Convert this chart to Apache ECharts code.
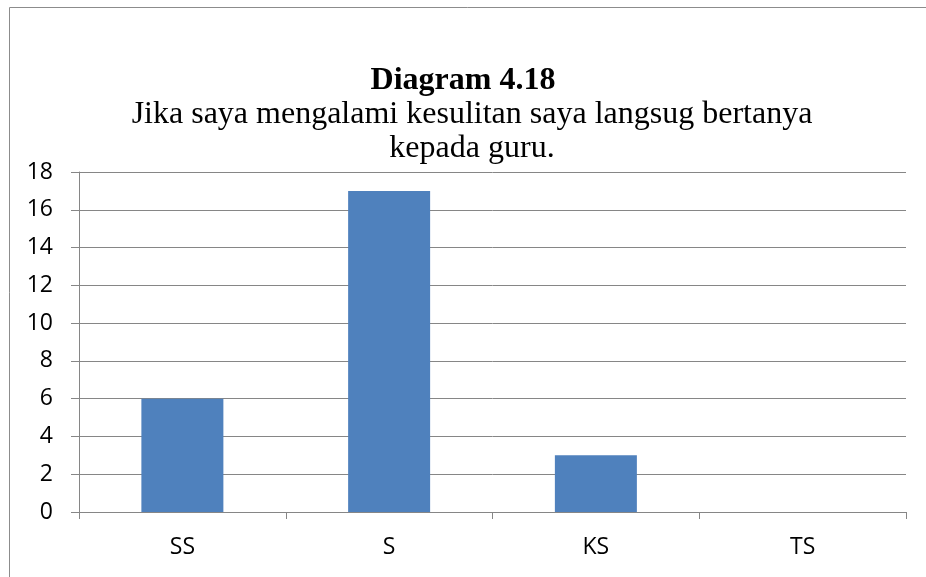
<!DOCTYPE html>
<html>
<head>
<meta charset="utf-8">
<script src="https://cdn.jsdelivr.net/npm/echarts@6/dist/echarts.min.js"></script>
<style>
  html, body { margin: 0; padding: 0; background: #fff; }
  #main { width: 926px; height: 577px; }
</style>
</head>
<body>
<div id="main"></div>
<script>
// data
const categories = ['SS', 'S', 'KS', 'TS'];
const values = [6, 17, 3, 0];
const yTicks = { min: 0, max: 18, step: 2 };

const chart = echarts.init(document.getElementById('main'));

chart.setOption({
  animation: false,
  backgroundColor: '#fff',
  title: [
    {
      text: 'Diagram 4.18',
      left: 458,
      top: 60,
      textAlign: 'center',
      textStyle: { fontFamily: 'Liberation Serif', fontSize: 32, fontWeight: 'bold', color: '#000', lineHeight: 32 }
    },
    {
      text: 'Jika saya mengalami kesulitan saya langsug bertanya\nkepada guru.',
      left: 467,
      top: 93,
      textAlign: 'center',
      textStyle: { fontFamily: 'Liberation Serif', fontSize: 32, fontWeight: 'normal', color: '#000', lineHeight: 34 }
    }
  ],
  // chart frame, only left and top edges visible
  graphic: [
    {
      type: 'polyline',
      shape: { points: [[9.5, 577], [9.5, 7.5], [926, 7.5]] },
      style: { stroke: '#8c8c8c', lineWidth: 1, fill: null }
    }
  ],
  grid: { left: 79, right: 20, top: 172, bottom: 65 },
  xAxis: {
    type: 'category',
    data: categories,
    axisLine: { lineStyle: { color: '#868686', width: 1 } },
    axisTick: { show: true, length: 7, lineStyle: { color: '#868686' } },
    axisLabel: { margin: 24, fontFamily: 'Open Sans', fontSize: 23, color: '#000' }
  },
  yAxis: {
    type: 'value',
    min: yTicks.min,
    max: yTicks.max,
    interval: yTicks.step,
    axisLine: { show: true, lineStyle: { color: '#868686', width: 1 } },
    axisTick: { show: true, length: 8, lineStyle: { color: '#868686' } },
    splitLine: { lineStyle: { color: '#868686', width: 1 } },
    axisLabel: { margin: 26, fontFamily: 'Open Sans', fontSize: 23, color: '#000' }
  },
  series: [
    {
      type: 'bar',
      data: values,
      barWidth: 82,
      itemStyle: { color: '#4F81BD' }
    }
  ]
});
</script>
</body>
</html>
